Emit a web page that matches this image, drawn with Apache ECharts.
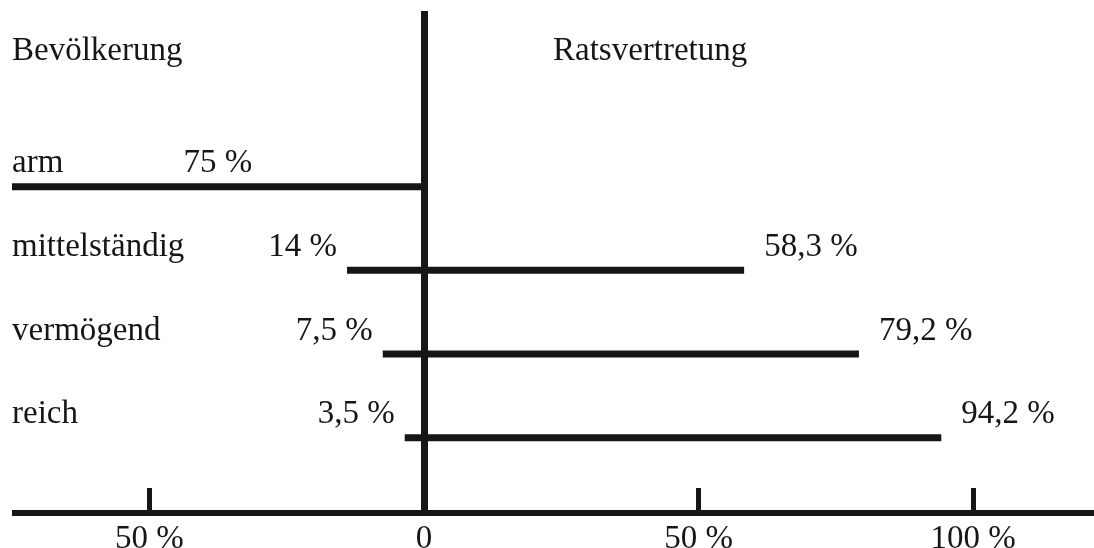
<!DOCTYPE html>
<html>
<head>
<meta charset="utf-8">
<script src="https://cdn.jsdelivr.net/npm/echarts@6/dist/echarts.min.js"></script>
<style>
  html, body { margin: 0; padding: 0; background: #ffffff; }
  #chart { width: 1094px; height: 548px; }
</style>
</head>
<body>
<div id="chart"></div>
<script>
// ---- data ----
const categories = ['arm', 'mittelständig', 'vermögend', 'reich'];
const bevoelkerung = [75, 14, 7.5, 3.5];          // share of population (%), drawn to the left
const ratsvertretung = [null, 58.3, 79.2, 94.2];  // share of council seats (%), drawn to the right
const tickValues = [-50, 0, 50, 100];
const headers = ['Bevölkerung', 'Ratsvertretung'];

// ---- styling ----
const FONT = '"Liberation Serif", "DejaVu Serif", serif';
const FS = 33;
const INK = '#161616';

const fmt = v => String(v).replace('.', ',') + ' %';
const measureCtx = document.createElement('canvas').getContext('2d');
measureCtx.font = FS + 'px ' + FONT;
const textWidth = t => measureCtx.measureText(t).width;

const seriesData = categories.map((c, i) => [i, bevoelkerung[i], ratsvertretung[i] == null ? '-' : ratsvertretung[i]]);

function renderItem(params, api) {
  const idx = api.value(0);
  const l = api.value(1);
  let r = api.value(2);
  const hasR = !(r == null || isNaN(r));
  if (!hasR) r = 0;
  const start = api.coord([-l, idx]);
  const end = api.coord([r, idx]);
  const x0 = params.coordSys.x;
  const ty = start[1] - 23;
  const name = categories[idx];
  const children = [
    {
      type: 'line',
      shape: { x1: start[0], y1: start[1], x2: end[0], y2: end[1] },
      style: { stroke: INK, lineWidth: 7, lineCap: 'butt' }
    },
    {
      type: 'text',
      x: x0, y: ty,
      style: { text: name, fontFamily: FONT, fontSize: FS, fill: INK, align: 'left', verticalAlign: 'middle' }
    }
  ];
  const lt = fmt(l);
  const nameEnd = x0 + textWidth(name);
  if (start[0] - 10 - textWidth(lt) < nameEnd + 20) {
    const mid = api.coord([-l / 2, idx]);
    children.push({
      type: 'text', x: mid[0], y: ty,
      style: { text: lt, fontFamily: FONT, fontSize: FS, fill: INK, align: 'center', verticalAlign: 'middle' }
    });
  } else {
    children.push({
      type: 'text', x: start[0] - 10, y: ty,
      style: { text: lt, fontFamily: FONT, fontSize: FS, fill: INK, align: 'right', verticalAlign: 'middle' }
    });
  }
  if (hasR) {
    children.push({
      type: 'text', x: end[0] + 20, y: ty,
      style: { text: fmt(r), fontFamily: FONT, fontSize: FS, fill: INK, align: 'left', verticalAlign: 'middle' }
    });
  }
  return { type: 'group', children: children };
}

const chart = echarts.init(document.getElementById('chart'), null, { renderer: 'canvas' });
chart.setOption({
  animation: false,
  backgroundColor: '#ffffff',
  title: [
    { text: headers[0], left: 7, top: 30, padding: 5, textStyle: { fontFamily: FONT, fontSize: FS, fontWeight: 'normal', color: INK } },
    { text: headers[1], left: 548, top: 30, padding: 5, textStyle: { fontFamily: FONT, fontSize: FS, fontWeight: 'normal', color: INK } }
  ],
  grid: { left: 12, right: 0, top: 11, bottom: 35, containLabel: false, outerBoundsMode: 'none' },
  xAxis: {
    type: 'value',
    min: -75,
    max: 122,
    axisLine: { show: true, onZero: false, lineStyle: { color: INK, width: 6, cap: 'butt' } },
    axisTick: { show: true, inside: true, length: 25, customValues: tickValues, lineStyle: { color: INK, width: 5, cap: 'butt' } },
    axisLabel: {
      show: true, customValues: tickValues, margin: 10,
      fontFamily: FONT, fontSize: FS, color: INK,
      formatter: v => (v === 0 ? '0' : Math.abs(v) + ' %')
    },
    splitLine: { show: false }
  },
  yAxis: {
    type: 'value',
    inverse: true,
    min: -2.1,
    max: 3.9,
    axisLine: { show: true, onZero: true, lineStyle: { color: INK, width: 7, cap: 'butt' } },
    axisTick: { show: false },
    axisLabel: { show: false },
    splitLine: { show: false }
  },
  series: [{
    type: 'custom',
    renderItem: renderItem,
    data: seriesData,
    encode: { x: [1, 2], y: 0 },
    clip: false
  }]
});
</script>
</body>
</html>
